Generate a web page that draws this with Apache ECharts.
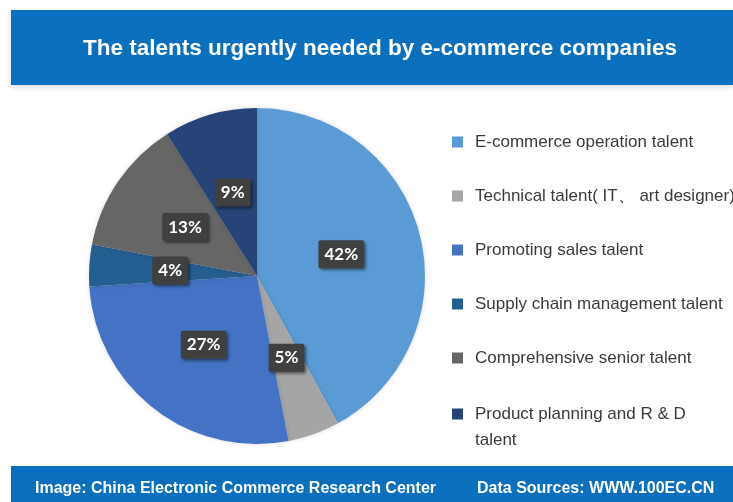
<!DOCTYPE html>
<html><head><meta charset="utf-8">
<script src="https://cdn.jsdelivr.net/npm/echarts@6/dist/echarts.min.js"></script>
<style>html,body{margin:0;padding:0;background:#fff}#c{width:733px;height:502px}</style>
</head><body><div id="c"></div>
<script>
const titleText = 'The talents urgently needed by e-commerce companies';
const footerLeft = 'Image: China Electronic Commerce Research Center';
const footerRight = 'Data Sources: WWW.100EC.CN';
const categories = [
  'E-commerce operation talent',
  'Technical talent( IT\u3001 art designer)',
  'Promoting sales talent',
  'Supply chain management talent',
  'Comprehensive senior talent',
  'Product planning and R & D talent'
];
const values = [42, 5, 27, 4, 13, 9];
const colors = ['#5b9bd5', '#a5a5a5', '#4472c4', '#255e91', '#666666', '#264478'];

const chart = echarts.init(document.getElementById('c'), null, {renderer: 'canvas'});
const legendText = {fontFamily: 'Liberation Sans, Arial, sans-serif', fontSize: 17, color: '#3a3a3a', lineHeight: 26, padding: [0, 0, 0, 7]};
chart.setOption({
  animation: false,
  backgroundColor: '#ffffff',
  color: colors,
  graphic: [
    {type: 'rect', left: 11, top: 10, shape: {width: 722, height: 75}, style: {fill: '#0a70bd', shadowBlur: 6, shadowOffsetY: 2, shadowColor: 'rgba(0,0,0,0.15)'}, z: 0},
    {type: 'rect', left: 11, top: 466, shape: {width: 722, height: 36}, style: {fill: '#0a70bd'}, z: 0}
  ],
  title: [
    {text: titleText, left: 375, top: 32, textAlign: 'center', textStyle: {color: '#fff', fontFamily: 'Liberation Sans, Arial, sans-serif', fontWeight: 'bold', fontSize: 22.5}},
    {text: footerLeft, left: 30, top: 476, textStyle: {color: '#fff', fontFamily: 'Liberation Sans, Arial, sans-serif', fontWeight: 'bold', fontSize: 16}},
    {text: footerRight, left: 472, top: 476, textStyle: {color: '#fff', fontFamily: 'Liberation Sans, Arial, sans-serif', fontWeight: 'bold', fontSize: 16}}
  ],
  legend: [
    {
      orient: 'vertical', left: 447, top: 124, itemWidth: 11, itemHeight: 11, itemGap: 28,
      icon: 'rect', data: categories.slice(0, 5), textStyle: legendText, selectedMode: false
    },
    {
      orient: 'vertical', left: 447, top: 370, itemWidth: 11, itemHeight: 11,
      icon: 'rect', data: categories.slice(5), textStyle: legendText, selectedMode: false,
      formatter: n => '\n' + n.replace(' R & D ', ' R & D\n')
    }
  ],
  series: [{
    type: 'pie',
    center: [257, 276],
    radius: [0, 168],
    startAngle: 90,
    clockwise: true,
    data: categories.map((n, i) => ({name: n, value: values[i]})),
    itemStyle: {shadowBlur: 4, shadowColor: 'rgba(0,0,0,0.15)'},
    label: {
      position: 'inside',
      formatter: p => p.value + '%',
      color: '#ffffff',
      fontFamily: 'Lato, sans-serif',
      fontWeight: 'bold',
      fontSize: 17,
      backgroundColor: '#404040',
      padding: [6, 6, 5, 6],
      borderRadius: 2,
      shadowColor: 'rgba(0,0,0,0.45)',
      shadowBlur: 3,
      shadowOffsetX: 2,
      shadowOffsetY: 2
    },
    labelLine: {show: false},
    emphasis: {disabled: true}
  }]
});
</script></body></html>
